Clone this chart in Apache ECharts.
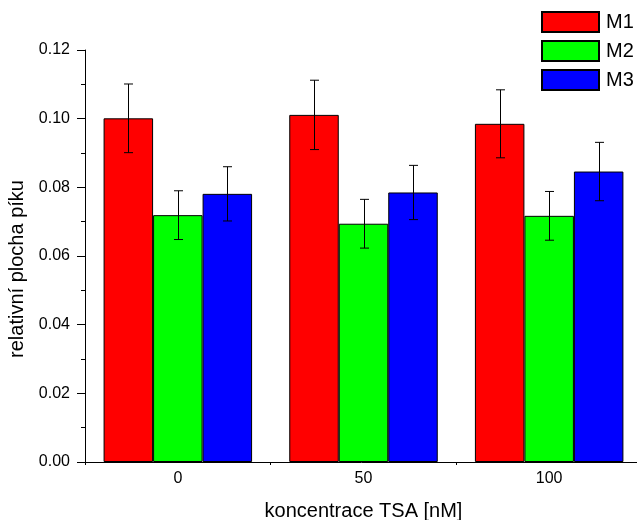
<!DOCTYPE html>
<html>
<head>
<meta charset="utf-8">
<script src="https://cdn.jsdelivr.net/npm/echarts@6/dist/echarts.min.js"></script>
<style>
html,body{margin:0;padding:0;background:#fff;}
#chart{width:637px;height:520px;}
</style>
</head>
<body>
<div id="chart"></div>
<script>
const categories = ['0', '50', '100'];
const seriesNames = ['M1', 'M2', 'M3'];
const m1Values = [0.1001, 0.1011, 0.0985];
const m1Errors = [0.0100, 0.0101, 0.0099];
const m2Values = [0.0719, 0.0694, 0.0717];
const m2Errors = [0.0071, 0.0071, 0.0071];
const m3Values = [0.0781, 0.0785, 0.0846];
const m3Errors = [0.0079, 0.0079, 0.0085];
const yTicks = ['0.00', '0.02', '0.04', '0.06', '0.08', '0.10', '0.12'];

const colors = ['#ff0000', '#00ff00', '#0000ff'];
const allValues = [m1Values, m2Values, m3Values];
const allErrors = [m1Errors, m2Errors, m3Errors];
const BAR_W = 49.5;
const FONT = '"Liberation Sans", Arial, sans-serif';

const chart = echarts.init(document.getElementById('chart'));

const barSeries = seriesNames.map((name, k) => ({
  name: name,
  type: 'bar',
  data: allValues[k],
  barWidth: BAR_W,
  barGap: '0%',
  itemStyle: { color: colors[k], borderColor: '#000', borderWidth: 1 },
  emphasis: { disabled: true },
  animation: false,
  z: 2
}));

const errSeries = seriesNames.map((name, k) => ({
  name: name + ' error',
  type: 'custom',
  data: allValues[k].map((v, i) => [i, v, allErrors[k][i]]),
  encode: { x: 0, y: 1 },
  z: 5,
  silent: true,
  animation: false,
  renderItem: function (params, api) {
    const i = api.value(0), v = api.value(1), e = api.value(2);
    const hi = api.coord([i, v + e]);
    const lo = api.coord([i, v - e]);
    const x = Math.round(hi[0] + (k - 1) * BAR_W) + 0.5;
    const cap = 4.5;
    const st = { stroke: '#000', lineWidth: 1, fill: null };
    return {
      type: 'group',
      children: [
        { type: 'line', shape: { x1: x, y1: hi[1], x2: x, y2: lo[1] }, style: st },
        { type: 'line', shape: { x1: x - cap, y1: hi[1], x2: x + cap, y2: hi[1] }, style: st },
        { type: 'line', shape: { x1: x - cap, y1: lo[1], x2: x + cap, y2: lo[1] }, style: st }
      ]
    };
  }
}));

chart.setOption({
  backgroundColor: '#ffffff',
  animation: false,
  textStyle: { fontFamily: FONT },
  legend: {
    data: seriesNames,
    orient: 'vertical',
    left: 541,
    top: 11,
    itemWidth: 57,
    itemHeight: 20,
    itemGap: 7,
    padding: 0,
    icon: 'rect',
    selectedMode: false,
    textStyle: { fontSize: 20, color: '#000', fontFamily: FONT, padding: [0, 0, 0, 2] }
  },
  grid: { left: 85, right: -5, top: 50, bottom: 58, containLabel: false, outerBoundsMode: 'none' },
  xAxis: {
    type: 'category',
    data: categories,
    name: 'koncentrace TSA [nM]',
    nameLocation: 'middle',
    nameGap: 39,
    nameTextStyle: { fontSize: 20, color: '#000', fontFamily: FONT },
    axisLine: { lineStyle: { color: '#000', width: 1 } },
    axisTick: { show: true, length: 3, lineStyle: { color: '#000' } },
    axisLabel: { fontSize: 16, color: '#000', margin: 9, fontFamily: FONT },
    splitLine: { show: false }
  },
  yAxis: {
    type: 'value',
    min: 0,
    max: 0.12,
    interval: 0.02,
    name: 'relativní plocha píku',
    nameLocation: 'middle',
    nameGap: 58,
    nameRotate: 90,
    nameTextStyle: { fontSize: 20, color: '#000', fontFamily: FONT, padding: [0, 26, 0, 0] },
    axisLine: { show: true, lineStyle: { color: '#000', width: 1 } },
    axisTick: { show: true, length: 8, lineStyle: { color: '#000' } },
    minorTick: { show: true, splitNumber: 2, length: 4, lineStyle: { color: '#000' } },
    axisLabel: {
      fontSize: 16, color: '#000', margin: 15, fontFamily: FONT,
      formatter: function (v) { return yTicks[Math.round(v / 0.02)] || v.toFixed(2); }
    },
    splitLine: { show: false }
  },
  series: barSeries.concat(errSeries)
});
</script>
</body>
</html>
